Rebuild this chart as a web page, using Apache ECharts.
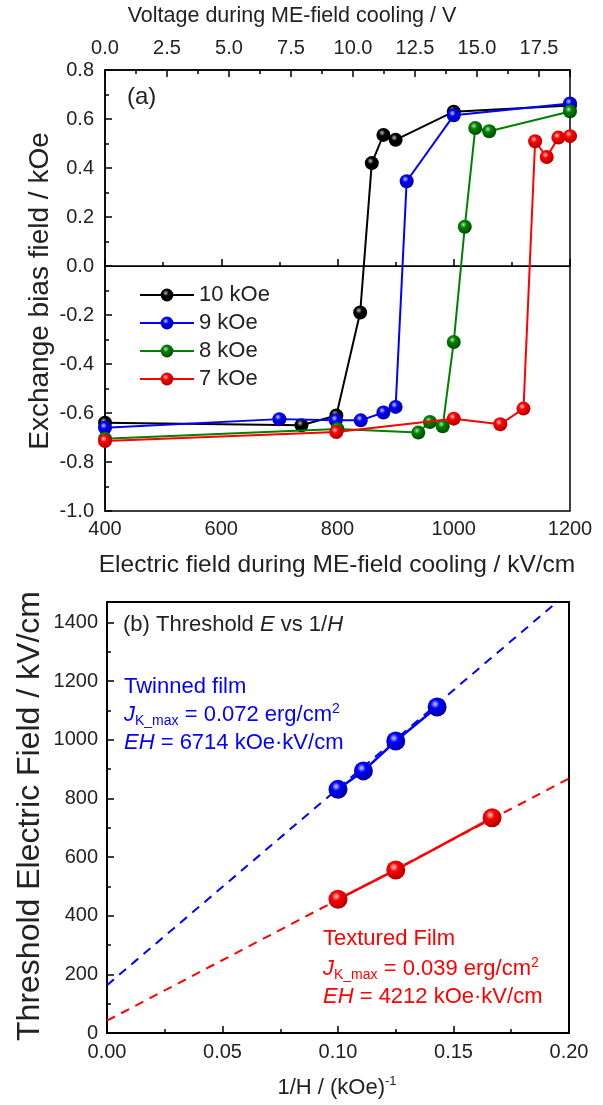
<!DOCTYPE html>
<html><head><meta charset="utf-8">
<script src="https://cdn.jsdelivr.net/npm/echarts@6/dist/echarts.min.js"></script>
<style>html,body{margin:0;padding:0;background:#fff}#c{width:603px;height:1105px}</style>
</head><body><div id="c"></div>
<script>
// ---- Panel (a) data: [electric field kV/cm, exchange bias kOe]
const seriesNamesA = ['10 kOe', '9 kOe', '8 kOe', '7 kOe'];
const data10 = [[400,-0.64],[738,-0.65],[798,-0.61],[839,-0.19],[859,0.42],[879,0.535],[900,0.515],[1000,0.63],[1200,0.655]];
const data9  = [[400,-0.66],[700,-0.625],[797,-0.63],[840,-0.63],[879,-0.598],[900,-0.575],[919,0.346],[1000,0.615],[1200,0.663]];
const data8  = [[400,-0.705],[800,-0.665],[939,-0.68],[959,-0.637],[981,-0.654],[1000,-0.31],[1019,0.16],[1037,0.563],[1061,0.55],[1200,0.631]];
const data7  = [[400,-0.714],[798,-0.678],[1000,-0.623],[1080,-0.646],[1120,-0.582],[1140,0.509],[1160,0.445],[1180,0.524],[1200,0.53]];
// ---- Panel (b) data: [1/H (kOe^-1), threshold E kV/cm]
const twinned  = [[0.1,831],[0.111,894],[0.125,996],[0.1429,1112]];
const textured = [[0.1,456],[0.125,556],[0.1667,734]];
const twinnedFit  = [[0,163],[0.2,1505]];
const texturedFit = [[0,42],[0.2,868]];

const FONT = 'Liberation Sans';
const TICK = 20, ANN = 22;
const colorsA = ['#000000','#0000ff','#008000','#ff0000'];
const darkA = ['#000000','#0000a0','#004d00','#b00000'];
const hiA = ['#bdbdbd','#c8c8ff','#b5e0b5','#ffc8c8'];
function ball(i){
  return {type:'radial',x:0.4,y:0.35,r:0.65,colorStops:[{offset:0,color:hiA[i]},{offset:0.35,color:colorsA[i]},{offset:1,color:darkA[i]}]};
}
const chart = echarts.init(document.getElementById('c'), null, {renderer:'canvas'});
const axisLabelA = {color:'#222', fontSize:TICK, fontFamily:FONT};
const topSeries = [data10,data9,data8,data7].map((d,i)=>({
  name: seriesNamesA[i], type:'line', xAxisIndex:0, yAxisIndex:0, data:d,
  symbol:'circle', symbolSize:14, showSymbol:true,
  lineStyle:{color:colorsA[i], width:2}, itemStyle:{color:ball(i), borderWidth:0},
  emphasis:{disabled:true}, z: 3+i,
  markLine: i===0 ? {silent:true, symbol:'none', label:{show:false}, lineStyle:{color:'#000', width:1, type:'solid'}, data:[{yAxis:0}]} : undefined
}));
const blueBall = {type:'radial',x:0.4,y:0.35,r:0.65,colorStops:[{offset:0,color:'#d0d0ff'},{offset:0.35,color:'#0000ff'},{offset:1,color:'#0000a0'}]};
const redBall = {type:'radial',x:0.4,y:0.35,r:0.65,colorStops:[{offset:0,color:'#ffd0d0'},{offset:0.35,color:'#ff0000'},{offset:1,color:'#b00000'}]};
function f(sz, it){ return (it?'italic ':'') + sz + 'px "Liberation Sans"'; }
const option = {
  animation:false,
  textStyle:{fontFamily:FONT},
  grid:[
    {left:105, right:33, top:70, bottom:594, show:true, borderColor:'#000', borderWidth:1.5, backgroundColor:'transparent'},
    {left:107, right:34, top:602, bottom:72, show:true, borderColor:'#000', borderWidth:2, backgroundColor:'transparent'}
  ],
  legend:{
    data: seriesNamesA, orient:'vertical', left:134, top:279, itemWidth:54, itemHeight:16, itemGap:6,
    textStyle:{fontSize:22, color:'#222', fontFamily:FONT}
  },
  xAxis:[
    {type:'value', gridIndex:0, min:400, max:1200, interval:200, position:'bottom',
     axisLine:{lineStyle:{color:'#000', width:1.5}}, axisTick:{inside:true, length:7, lineStyle:{color:'#000', width:1.5}},
     minorTick:{show:true, splitNumber:2, length:4, lineStyle:{color:'#000', width:1.5}},
     splitLine:{show:false}, axisLabel:Object.assign({margin:8, formatter:v=>String(v)}, axisLabelA)},
    {type:'value', gridIndex:0, min:0, max:18.75, interval:2.5, position:'top',
     axisLine:{lineStyle:{color:'#000', width:1.5}}, axisTick:{inside:true, length:7, lineStyle:{color:'#000', width:1.5}},
     minorTick:{show:true, splitNumber:2, length:4, lineStyle:{color:'#000', width:1.5}},
     splitLine:{show:false}, axisLabel:Object.assign({margin:12, showMaxLabel:false, formatter:v=>v.toFixed(1)}, axisLabelA)},
    {type:'value', gridIndex:1, min:0, max:0.2, interval:0.05, position:'bottom',
     axisLine:{lineStyle:{color:'#000', width:2}}, axisTick:{inside:true, length:7, lineStyle:{color:'#000', width:1.5}},
     minorTick:{show:true, splitNumber:2, length:4, lineStyle:{color:'#000', width:1.5}},
     splitLine:{show:false}, axisLabel:Object.assign({margin:9, formatter:v=>v.toFixed(2)}, axisLabelA)}
  ],
  yAxis:[
    {type:'value', gridIndex:0, min:-1.0, max:0.8, interval:0.2,
     axisLine:{lineStyle:{color:'#000', width:1.5}}, axisTick:{inside:true, length:7, lineStyle:{color:'#000', width:1.5}},
     minorTick:{show:true, splitNumber:2, length:4, lineStyle:{color:'#000', width:1.5}},
     splitLine:{show:false}, axisLabel:Object.assign({margin:11, formatter:v=>v.toFixed(1)}, axisLabelA)},
    {type:'value', gridIndex:1, min:0, max:1470, interval:200,
     axisLine:{lineStyle:{color:'#000', width:2}}, axisTick:{inside:true, length:7, lineStyle:{color:'#000', width:1.5}},
     minorTick:{show:true, splitNumber:2, length:4, lineStyle:{color:'#000', width:1.5}},
     splitLine:{show:false}, axisLabel:Object.assign({margin:9, showMaxLabel:false, formatter:v=>String(v)}, axisLabelA)}
  ],
  series: topSeries.concat([
    {type:'line', xAxisIndex:2, yAxisIndex:1, data:twinnedFit, symbol:'none', lineStyle:{color:'#0000ff', width:2, type:[9,7]}, emphasis:{disabled:true}, z:2},
    {type:'line', xAxisIndex:2, yAxisIndex:1, data:texturedFit, symbol:'none', lineStyle:{color:'#ff0000', width:2, type:[9,7]}, emphasis:{disabled:true}, z:2},
    {type:'line', xAxisIndex:2, yAxisIndex:1, data:twinned, symbol:'circle', symbolSize:19, lineStyle:{color:'#0000ff', width:2.5}, itemStyle:{color:blueBall}, emphasis:{disabled:true}, z:4},
    {type:'line', xAxisIndex:2, yAxisIndex:1, data:textured, symbol:'circle', symbolSize:19, lineStyle:{color:'#ff0000', width:2.5}, itemStyle:{color:redBall}, emphasis:{disabled:true}, z:4}
  ]),
  graphic:[
    {type:'text', x:292, y:16, style:{text:'Voltage during ME-field cooling / V', font:f(21.5), fill:'#222', textAlign:'center', textVerticalAlign:'middle'}},
    {type:'text', x:337, y:565, style:{text:'Electric field during ME-field cooling / kV/cm', font:f(24.5), fill:'#222', textAlign:'center', textVerticalAlign:'middle'}},
    {type:'text', x:40, y:291, rotation:Math.PI/2, style:{text:'Exchange bias field / kOe', font:f(28), fill:'#222', textAlign:'center', textVerticalAlign:'middle'}},
    {type:'text', x:30, y:816, rotation:Math.PI/2, style:{text:'Threshold Electric Field / kV/cm', font:f(32), fill:'#222', textAlign:'center', textVerticalAlign:'middle'}},
    {type:'text', x:127, y:97, style:{text:'(a)', font:f(24), fill:'#222', textAlign:'left', textVerticalAlign:'middle'}},
    {type:'text', x:123, y:625, style:{text:'{n|(b) Threshold }{i|E}{n| vs 1/}{i|H}', textAlign:'left', textVerticalAlign:'middle',
      rich:{n:{font:f(ANN), fill:'#222'}, i:{font:f(ANN,1), fill:'#222'}}}},
    {type:'text', x:124, y:687, style:{text:'Twinned film', font:f(ANN), fill:'#0000ff', textAlign:'left', textVerticalAlign:'middle'}},
    {type:'text', x:124, y:715, style:{text:'{i|J}{sub|K_max}{n| = 0.072 erg/cm}{sup|2}', textAlign:'left', textVerticalAlign:'middle',
      rich:{n:{font:f(ANN), fill:'#0000ff', lineHeight:26}, i:{font:f(ANN,1), fill:'#0000ff', lineHeight:26},
            sub:{font:f(14), fill:'#0000ff', verticalAlign:'bottom', lineHeight:14}, sup:{font:f(14), fill:'#0000ff', verticalAlign:'top', lineHeight:14}}}},
    {type:'text', x:124, y:743, style:{text:'{i|EH}{n| = 6714 kOe·kV/cm}', textAlign:'left', textVerticalAlign:'middle',
      rich:{n:{font:f(ANN), fill:'#0000ff'}, i:{font:f(ANN,1), fill:'#0000ff'}}}},
    {type:'text', x:323, y:939, style:{text:'Textured Film', font:f(ANN), fill:'#ff0000', textAlign:'left', textVerticalAlign:'middle'}},
    {type:'text', x:323, y:969, style:{text:'{i|J}{sub|K_max}{n| = 0.039 erg/cm}{sup|2}', textAlign:'left', textVerticalAlign:'middle',
      rich:{n:{font:f(ANN), fill:'#ff0000', lineHeight:26}, i:{font:f(ANN,1), fill:'#ff0000', lineHeight:26},
            sub:{font:f(14), fill:'#ff0000', verticalAlign:'bottom', lineHeight:14}, sup:{font:f(14), fill:'#ff0000', verticalAlign:'top', lineHeight:14}}}},
    {type:'text', x:323, y:997, style:{text:'{i|EH}{n| = 4212 kOe·kV/cm}', textAlign:'left', textVerticalAlign:'middle',
      rich:{n:{font:f(ANN), fill:'#ff0000'}, i:{font:f(ANN,1), fill:'#ff0000'}}}},
    {type:'text', x:337, y:1088, style:{text:'{n|1/H / (kOe)}{sup|-1}', textAlign:'center', textVerticalAlign:'middle',
      rich:{n:{font:f(ANN), fill:'#222', lineHeight:26}, sup:{font:f(13), fill:'#222', verticalAlign:'top', lineHeight:13}}}}
  ]
};
chart.setOption(option);
</script></body></html>
